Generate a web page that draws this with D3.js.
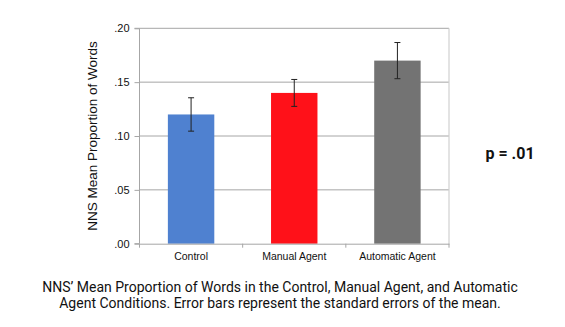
<!DOCTYPE html>
<html><head><meta charset="utf-8">
<script src="https://cdn.jsdelivr.net/npm/d3@7"></script>
<style>body{margin:0;background:#fff;} svg{display:block;}</style>
</head><body>
<script>
const categories = ["Control", "Manual Agent", "Automatic Agent"];
const means = [0.120, 0.140, 0.170];
const stdErrors = [0.0155, 0.0125, 0.0168];
const barColors = ["#4f81d0", "#ff1119", "#737373"];
const yTicks = [0, 0.05, 0.10, 0.15, 0.20];
const yTickLabels = [".00", ".05", ".10", ".15", ".20"];
const yTitle = "NNS Mean Proportion of Words";
const pLabel = "p = .01";
const captionLines = ["NNS’ Mean Proportion of Words in the Control, Manual Agent, and Automatic",
                      "Agent Conditions. Error bars represent the standard errors of the mean."];

const W = 565, H = 327;
const svg = d3.select("body").append("svg").attr("width", W).attr("height", H);
const L = 139.5, R = 449, T = 28.3, B = 243.7;
const x = d3.scaleBand().domain(categories).range([L, R]).paddingInner(0.55).paddingOuter(0.275);
const y = d3.scaleLinear().domain([0, 0.20]).range([B, T]);
const font = "'Liberation Sans', Arial, sans-serif";

// gridlines
svg.append("g").selectAll("line").data(yTicks.slice(1)).join("line")
  .attr("x1", L).attr("x2", R).attr("y1", d => y(d)).attr("y2", d => y(d))
  .attr("stroke", "#a6a6a6").attr("stroke-width", 1);
// right border
svg.append("line").attr("x1", R).attr("x2", R).attr("y1", T).attr("y2", B)
  .attr("stroke", "#d0d0d0").attr("stroke-width", 1.2);

// bars
svg.append("g").selectAll("rect").data(categories).join("rect")
  .attr("x", d => x(d)).attr("width", x.bandwidth())
  .attr("y", (d, i) => y(means[i])).attr("height", (d, i) => B - y(means[i]))
  .attr("fill", (d, i) => barColors[i]);

// error bars
const eb = svg.append("g").attr("stroke", "#222").attr("stroke-width", 1);
categories.forEach((c, i) => {
  const cx = x(c) + x.bandwidth() / 2;
  const y1 = y(means[i] + stdErrors[i]), y2 = y(means[i] - stdErrors[i]);
  eb.append("line").attr("x1", cx).attr("x2", cx).attr("y1", y1).attr("y2", y2);
  eb.append("line").attr("x1", cx - 3).attr("x2", cx + 3).attr("y1", y1).attr("y2", y1);
  eb.append("line").attr("x1", cx - 3).attr("x2", cx + 3).attr("y1", y2).attr("y2", y2);
});

// y axis
const yAxis = d3.axisLeft(y).tickValues(yTicks).tickFormat((d, i) => yTickLabels[i]).tickSize(5).tickPadding(5);
const gy = svg.append("g").attr("transform", `translate(${L},0)`).call(yAxis);
gy.select(".domain").attr("stroke", "#a6a6a6").attr("d", `M-5,${T}H0V${B}H-5`);
gy.selectAll(".tick line").attr("stroke", "#a6a6a6");
gy.selectAll("text").attr("font-family", font).attr("font-size", 11).attr("fill", "#111");

// x axis
const xAxis = d3.axisBottom(x).tickSize(0).tickPadding(9);
const gx = svg.append("g").attr("transform", `translate(0,${B})`).call(xAxis);
gx.select(".domain").attr("stroke", "#a6a6a6");
gx.selectAll("text").attr("font-family", font).attr("font-size", 10.5).attr("fill", "#111");
const step = x.step();
const bounds = d3.range(categories.length + 1).map(i => L + i * step);
gx.selectAll(".sep").data(bounds).join("line").attr("class", "sep")
  .attr("x1", d => d).attr("x2", d => d).attr("y1", 0).attr("y2", 4).attr("stroke", "#a6a6a6");

// y title
svg.append("text").attr("transform", `translate(97,${(T + B) / 2}) rotate(-90)`)
  .attr("text-anchor", "middle").attr("font-family", font).attr("font-size", 13.5).attr("fill", "#111")
  .text(yTitle);

// p label
svg.append("text").attr("x", 510).attr("y", 159).attr("text-anchor", "middle")
  .attr("font-family", "Roboto, sans-serif").attr("font-weight", "bold").attr("font-size", 16).attr("fill", "#111")
  .text(pLabel);

// caption
svg.append("g").selectAll("text").data(captionLines).join("text")
  .attr("x", 280).attr("y", (d, i) => 292 + i * 16).attr("text-anchor", "middle")
  .attr("font-family", "Roboto, sans-serif").attr("font-size", 14).attr("fill", "#111")
  .text(d => d);
</script>
</body></html>
